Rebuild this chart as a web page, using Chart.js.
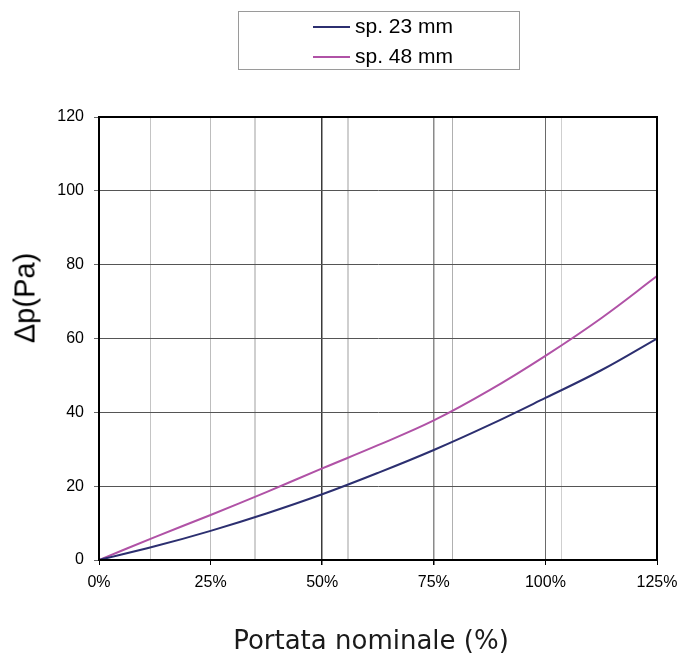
<!DOCTYPE html>
<html>
<head>
<meta charset="utf-8">
<script src="https://cdn.jsdelivr.net/npm/chart.js@4"></script>
<style>
  body { margin: 0; background: #fff; }
  #wrap { position: relative; width: 680px; height: 657px; }
  #legend { position: absolute; left: 238px; top: 11px; width: 280px; height: 57px;
    border: 1px solid #9a9a9a; font-family: "Liberation Sans", Arial, sans-serif; font-size: 21px; color: #000; }
  .row { position: absolute; left: 74px; height: 26px; line-height: 26px; white-space: nowrap; }
  .row span.sw { display: inline-block; width: 37px; height: 2px; vertical-align: middle; margin-right: 5px; }
  #ytitle { position: absolute; left: 25px; top: 298px; transform: translate(-50%, -50%) rotate(-90deg);
    font-family: "Liberation Sans", Arial, sans-serif; font-size: 29px; white-space: nowrap; }
  #xtitle { position: absolute; left: 371px; top: 640px; transform: translate(-50%, -50%);
    font-family: "DejaVu Sans", sans-serif; font-size: 26px; white-space: nowrap; color: #1a1a1a; }
</style>
</head>
<body>
<div id="wrap">
  <canvas id="myChart" width="680" height="657"></canvas>
  <div id="legend"></div>
  <div id="ytitle">Δp(Pa)</div>
  <div id="xtitle">Portata nominale (%)</div>
</div>
<script>
let ctx = document.querySelector('#myChart').getContext('2d')

// portata nominale (%)
const portata = [0, 12.5, 25, 37.5, 50, 62.5, 75, 87.5, 100, 112.5, 125]
// delta p (Pa)
const sp23 = [0, 3.7, 7.9, 12.6, 17.8, 23.6, 29.8, 36.6, 43.9, 51.4, 60]
const sp48 = [0, 6.2, 12.2, 18.4, 24.8, 31.1, 37.8, 46, 55.3, 65.5, 76.9]
const seriesNames = ['sp. 23 mm', 'sp. 48 mm']
const seriesColors = ['#2c2f70', '#b052a6']
// secondary vertical grid lines (%)
const extraGrid = [11.5, 35, 55.7, 79.1, 103.6]
const yTicks = [0, 20, 40, 60, 80, 100, 120]
const xTicks = [0, 25, 50, 75, 100, 125]

const majorColors = { 0: '#000', 25: '#bdbdbd', 50: '#3a3a3a', 75: '#8a8a8a', 100: '#6a6a6a', 125: '#000' }

const toPoints = arr => portata.map((p, i) => ({ x: p, y: arr[i] }))

// legend
const legend = document.querySelector('#legend')
seriesNames.forEach((name, i) => {
    const row = document.createElement('div')
    row.className = 'row'
    row.style.top = (1 + i * 30) + 'px'
    row.innerHTML = '<span class="sw" style="background:' + seriesColors[i] + '"></span>' + name
    legend.appendChild(row)
})

const frame = {
    id: 'frame',
    afterDraw(chart) {
        const a = chart.chartArea
        const c = chart.ctx
        c.save()
        c.strokeStyle = '#000'
        c.lineWidth = 2
        c.strokeRect(a.left, a.top, a.right - a.left, a.bottom - a.top)
        c.restore()
    }
}

const tickFont = { family: '"Liberation Sans", Arial, sans-serif', size: 16 }

const buildChart = () => {
    new Chart(ctx, {
        type: 'line',
        data: {
            datasets: [{
                label: seriesNames[0],
                data: toPoints(sp23),
                borderColor: seriesColors[0],
                borderWidth: 2,
                pointRadius: 0,
                tension: 0.4
            }, {
                label: seriesNames[1],
                data: toPoints(sp48),
                borderColor: seriesColors[1],
                borderWidth: 2,
                pointRadius: 0,
                tension: 0.4
            }]
        },
        options: {
            responsive: false,
            animation: false,
            layout: { padding: { left: 0, top: 117, right: 23, bottom: 0 } },
            plugins: { legend: { display: false }, tooltip: { enabled: false } },
            scales: {
                x2: {
                    type: 'linear',
                    position: 'top',
                    min: 0, max: 125,
                    afterBuildTicks: s => { s.ticks = extraGrid.map(v => ({ value: v })) },
                    afterFit: s => { s.height = 0; s.paddingLeft = 0; s.paddingRight = 0 },
                    ticks: { display: false },
                    border: { display: false },
                    grid: {
                        drawTicks: false,
                        color: ['#c4c4c4', '#cfcfcf', '#cfcfcf', '#b0b0b0', '#cfcfcf'],
                        lineWidth: [1, 2, 2, 1, 1]
                    }
                },
                x: {
                    type: 'linear',
                    min: 0, max: 125,
                    afterBuildTicks: s => { s.ticks = xTicks.map(v => ({ value: v })) },
                    afterFit: s => { s.height = 97; s.paddingLeft = 0; s.paddingRight = 0 },
                    border: { color: '#000', width: 2 },
                    grid: {
                        color: c => majorColors[c.tick.value] || '#888',
                        tickColor: '#000',
                        tickLength: 5,
                        lineWidth: c => (c.tick.value === 50 || c.tick.value === 75) ? 1.5 : 1
                    },
                    ticks: {
                        color: '#000',
                        padding: 8,
                        maxRotation: 0,
                        font: tickFont,
                        callback: v => v + '%'
                    }
                },
                y: {
                    min: 0, max: 120,
                    afterBuildTicks: s => { s.ticks = yTicks.map(v => ({ value: v })) },
                    afterFit: s => { s.width = 99; s.paddingTop = 0; s.paddingBottom = 0 },
                    border: { color: '#000', width: 2 },
                    grid: { color: '#555', tickColor: '#666', tickLength: 5 },
                    ticks: {
                        color: '#000',
                        padding: 10,
                        font: tickFont
                    }
                }
            }
        },
        plugins: [frame]
    })
}

buildChart()
</script>
</body>
</html>
